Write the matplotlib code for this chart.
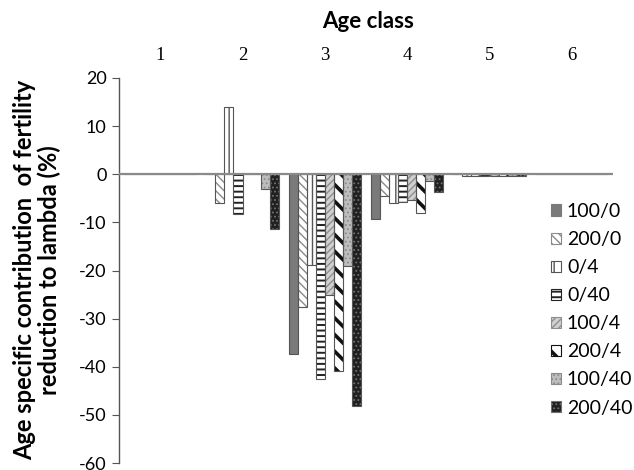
import matplotlib
matplotlib.use("Agg")
import matplotlib.pyplot as plt
from matplotlib.patches import Patch
import numpy as np

age_classes = ["1", "2", "3", "4", "5", "6"]
series_names = ["100/0", "200/0", "0/4", "0/40", "100/4", "200/4", "100/40", "200/40"]
v_100_0 = [0, 0, -37.3, -9.4, 0, 0]
v_200_0 = [0, -6.0, -27.6, -4.5, -0.3, 0]
v_0_4 = [0, 14.0, -18.8, -6.0, -0.3, 0]
v_0_40 = [0, -8.2, -42.6, -5.8, -0.3, 0]
v_100_4 = [0, 0, -25.0, -5.3, -0.3, 0]
v_200_4 = [0, 0, -40.8, -8.0, -0.3, 0]
v_100_40 = [0, -3.1, -19.0, -1.4, -0.3, 0]
v_200_40 = [0, -11.4, -48.2, -3.6, -0.3, 0]
all_values = [v_100_0, v_200_0, v_0_4, v_0_40, v_100_4, v_200_4, v_100_40, v_200_40]
y_ticks = [20, 10, 0, -10, -20, -30, -40, -50, -60]

# (facecolor, hatch, hatchcolor, hatch linewidth)
styles = [
    ("#7a7a7a", None, "#7a7a7a", 1.0),
    ("white", "\\\\\\\\", "#8a8a8a", 1.0),
    ("white", "||", "#555555", 1.0),
    ("white", "---", "#222222", 1.4),
    ("#d0d0d0", "/////", "#8f8f8f", 1.0),
    ("white", "\\\\", "#111111", 2.6),
    ("#bdbdbd", "....", "#8c8c8c", 0.8),
    ("#202020", "....", "#707070", 0.8),
]


def with_hatch_lw(artist, lw):
    if hasattr(artist, "set_hatch_linewidth"):
        artist.set_hatch_linewidth(lw)
    if hasattr(artist, "_hatch_linewidth"):
        artist._hatch_linewidth = lw
    orig = artist.draw

    def draw(renderer, _orig=orig, _lw=lw):
        with plt.rc_context({"hatch.linewidth": _lw}):
            _orig(renderer)
    artist.draw = draw


fig = plt.figure(figsize=(6.34, 4.70), dpi=100)
ax = fig.add_axes([119 / 634, 7 / 470, (613 - 119) / 634, (463 - 78) / 470])

x = np.arange(len(age_classes))
n = len(series_names)
w = 9.0 / 82.3
handles = []
for i, (name, vals) in enumerate(zip(series_names, all_values)):
    fc, h, hc, hlw = styles[i]
    pos = x + (i - (n - 1) / 2) * w
    with plt.rc_context({"hatch.linewidth": hlw}):
        bars = ax.bar(pos, vals, width=w, color=fc, edgecolor=hc, hatch=h, linewidth=0, zorder=2)
    for b in bars:
        with_hatch_lw(b, hlw)
    ax.bar(pos, vals, width=w, fill=False, edgecolor="#555555", linewidth=0.8, zorder=3)
    p = Patch(facecolor=fc, edgecolor=hc, hatch=h, linewidth=0.8, label=name)
    handles.append(p)

ax.set_xlim(-0.5, len(age_classes) - 0.5)
ax.set_ylim(-60, 20)
ax.axhline(0, color="#8a8a8a", linewidth=1.6, zorder=4)

for s in ["top", "right", "bottom"]:
    ax.spines[s].set_visible(False)
ax.spines["left"].set_color("#555555")
ax.spines["left"].set_linewidth(1.0)

ax.set_yticks(y_ticks)
ax.set_yticklabels([str(t) for t in y_ticks], fontfamily="Lato", fontsize=13)
ax.tick_params(axis="y", length=5, color="#555555", pad=4)

ax.xaxis.set_ticks_position("top")
ax.set_xticks(x)
ax.set_xticklabels(age_classes, fontfamily="Liberation Serif", fontsize=13.5)
ax.tick_params(axis="x", length=0, pad=10)

fig.text(368 / 634, 1 - 22 / 470, "Age class", ha="center", va="center",
         fontfamily="Lato", fontweight="bold", fontsize=16)
fig.text(37 / 634, 1 - 270 / 470, "Age specific contribution  of fertility\nreduction to lambda (%)",
         ha="center", va="center", rotation=90, fontfamily="Lato", fontweight="bold",
         fontsize=17, linespacing=1.05)

leg = fig.legend(handles=handles, loc="upper left", bbox_to_anchor=(551 / 634, 1 - 203 / 470),
                 frameon=False, prop={"family": "Lato", "size": 14},
                 handlelength=0.52, handleheight=0.52, handletextpad=0.3,
                 labelspacing=0.57, borderpad=0, borderaxespad=0)
for lp, st in zip(leg.get_patches(), styles):
    lp.set_edgecolor(st[2])
    with_hatch_lw(lp, st[3])

fig.savefig("out.png", dpi=100)
